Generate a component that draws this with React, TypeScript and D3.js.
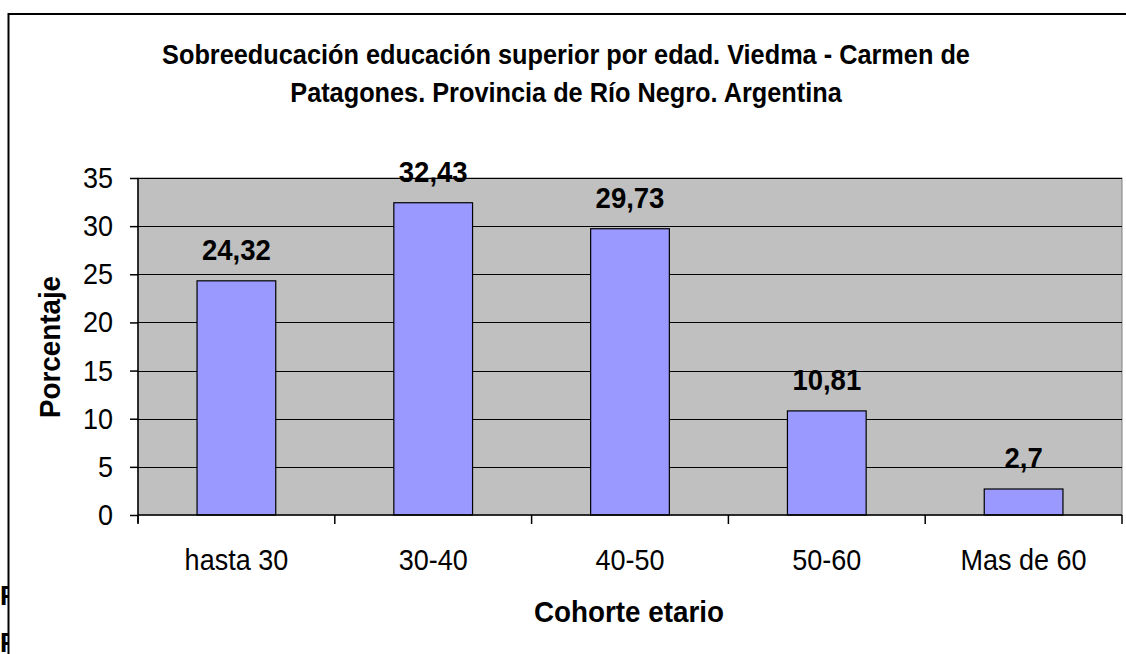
import React, { useEffect, useRef } from "react";
import * as d3 from "d3";

const categories = ["hasta 30", "30-40", "40-50", "50-60", "Mas de 60"];
const values = [24.32, 32.43, 29.73, 10.81, 2.7];
const valueLabels = ["24,32", "32,43", "29,73", "10,81", "2,7"];
const yTicks = [0, 5, 10, 15, 20, 25, 30, 35];
const titleLines = [
  "Sobreeducación educación superior por edad. Viedma - Carmen de",
  "Patagones. Provincia de Río Negro. Argentina",
];

const FONT = "'Liberation Sans', Arial, sans-serif";
const SY = 1.08; // text in the source is a bit stretched vertically

export default function App() {
  const ref = useRef<SVGSVGElement>(null);

  useEffect(() => {
    const svg = d3.select(ref.current);
    svg.selectAll("*").remove();

    const width = 1126;
    const height = 654;
    const plot = { left: 138, top: 178, right: 1122, bottom: 515 };

    svg.attr("width", width).attr("height", height);

    const addText = (x: number, y: number, txt: string, size: number, bold: boolean, anchor: string, rotate = 0) =>
      svg.append("text")
        .attr("transform", `translate(${x},${y}) rotate(${rotate}) scale(1,${SY})`)
        .attr("text-anchor", anchor)
        .attr("font-family", FONT)
        .attr("font-size", size)
        .attr("font-weight", bold ? "bold" : "normal")
        .attr("fill", "#000")
        .text(txt);

    // clipped letters peeking out behind the chart frame
    addText(0, 605, "F", 26, true, "start");
    addText(0, 652, "F", 26, true, "start");

    // chart frame
    svg.append("rect")
      .attr("x", 8.5).attr("y", 14)
      .attr("width", 1200).attr("height", 700)
      .attr("fill", "#fff")
      .attr("stroke", "#000")
      .attr("stroke-width", 2);

    const x = d3.scaleBand<string>()
      .domain(categories)
      .range([plot.left, plot.right])
      .paddingInner(0.6)
      .paddingOuter(0.3);

    const y = d3.scaleLinear().domain([0, 35]).range([plot.bottom, plot.top]);

    // plot area
    svg.append("rect")
      .attr("x", plot.left).attr("y", plot.top)
      .attr("width", plot.right - plot.left).attr("height", plot.bottom - plot.top)
      .attr("fill", "#c0c0c0")
      .attr("stroke", "#808080")
      .attr("stroke-width", 1);

    // gridlines
    svg.append("g")
      .selectAll("line")
      .data(yTicks.filter(d => d > 0))
      .join("line")
      .attr("x1", plot.left).attr("x2", plot.right)
      .attr("y1", d => Math.round(y(d)) + 0.5).attr("y2", d => Math.round(y(d)) + 0.5)
      .attr("stroke", "#000")
      .attr("stroke-width", 1);

    // bars
    svg.append("g")
      .selectAll("rect")
      .data(values)
      .join("rect")
      .attr("x", (d, i) => x(categories[i])!)
      .attr("y", d => y(d))
      .attr("width", x.bandwidth())
      .attr("height", d => y(0) - y(d))
      .attr("fill", "#9999ff")
      .attr("stroke", "#000")
      .attr("stroke-width", 1.2);

    // y axis
    const yAxis = svg.append("g")
      .attr("transform", `translate(${plot.left},0)`)
      .call(d3.axisLeft(y).tickValues(yTicks).tickSize(8).tickFormat(() => ""));
    yAxis.select(".domain").attr("d", `M0,${plot.top}V${plot.bottom + 8}`).attr("stroke-width", 1.5);
    yAxis.selectAll(".tick line").attr("stroke-width", 1.5);

    // x axis
    const step = x.step();
    const tickXs = d3.range(categories.length + 1).map(i => plot.left + i * step);
    svg.append("line")
      .attr("x1", plot.left).attr("x2", plot.right)
      .attr("y1", plot.bottom).attr("y2", plot.bottom)
      .attr("stroke", "#000").attr("stroke-width", 1.5);
    svg.append("g")
      .selectAll("line")
      .data(tickXs)
      .join("line")
      .attr("x1", d => d).attr("x2", d => d)
      .attr("y1", plot.bottom).attr("y2", plot.bottom + 9)
      .attr("stroke", "#000").attr("stroke-width", 1.5);

    // tick labels
    yTicks.forEach(t => addText(113, y(t) + 10, String(t), 27, false, "end"));
    categories.forEach(c => addText(x(c)! + x.bandwidth() / 2, 570, c, 27, false, "middle"));

    // value labels
    values.forEach((v, i) =>
      addText(x(categories[i])! + x.bandwidth() / 2, y(v) - 21, valueLabels[i], 27.5, true, "middle"));

    // titles
    titleLines.forEach((l, i) => addText(566, 64 + i * 38, l, 25.3, true, "middle"));
    addText(629, 622, "Cohorte etario", 27.8, true, "middle");
    addText(60, 347, "Porcentaje", 27.8, true, "middle", -90);
  }, []);

  return <svg ref={ref} style={{ position: "absolute", left: 0, top: 0 }}></svg>;
}
